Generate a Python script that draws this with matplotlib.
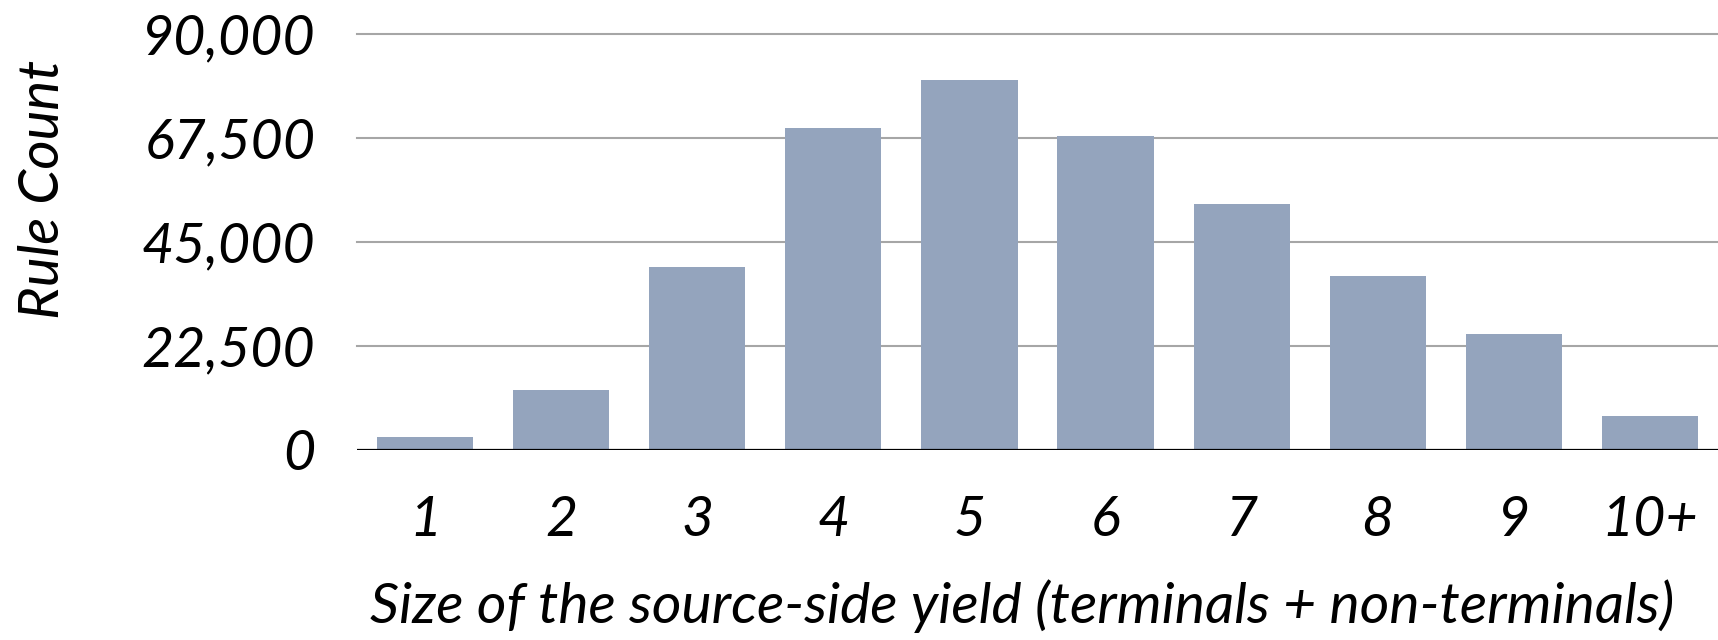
import matplotlib
matplotlib.use("Agg")
import matplotlib.pyplot as plt
from matplotlib.ticker import FuncFormatter

# Rule counts by source-side yield size
categories = ["1", "2", "3", "4", "5", "6", "7", "8", "9", "10+"]
rule_counts = [2700, 12900, 39400, 69600, 80000, 67900, 53200, 37600, 25000, 7300]
y_ticks = [0, 22500, 45000, 67500, 90000]

bar_color = "#94A4BD"
grid_color = "#A6A6A6"
font = ["Lato", "DejaVu Sans"]

fig = plt.figure(figsize=(17.18, 6.4), dpi=100)
ax = fig.add_axes([357 / 1718, 1 - 449.5 / 640, 1 - 357 / 1718, (449.5 - 33.7) / 640])

x = list(range(len(categories)))
ax.bar(x, rule_counts, width=0.707, color=bar_color, zorder=2)

ax.set_xlim(-0.5, len(categories) - 0.5)
ax.set_ylim(0, 90000)
ax.set_yticks(y_ticks)
ax.yaxis.set_major_formatter(FuncFormatter(lambda v, p: f"{int(v):,}"))
ax.set_xticks(x)
ax.set_xticklabels(categories)

for v in y_ticks[1:]:
    ax.axhline(v, color=grid_color, lw=1.5, zorder=1, clip_on=False)
ax.axhline(0, color="black", lw=1.6, zorder=3)

for s in ax.spines.values():
    s.set_visible(False)
ax.tick_params(axis="both", length=0)
ax.tick_params(axis="y", pad=30)
ax.tick_params(axis="x", pad=33)

for lab in ax.get_yticklabels() + ax.get_xticklabels():
    lab.set_fontfamily(font)
    lab.set_fontstyle("italic")
    lab.set_fontsize(40)

fig.text(1022 / 1718, 1 - 606 / 640, "Size of the source-side yield (terminals + non-terminals)",
         ha="center", va="center", fontsize=41, fontstyle="italic", family=font)
fig.text(44 / 1718, 1 - 189 / 640, "Rule Count", ha="center", va="center",
         rotation=90, fontsize=40.5, fontstyle="italic", family=font)

fig.savefig("out.png", dpi=100)
